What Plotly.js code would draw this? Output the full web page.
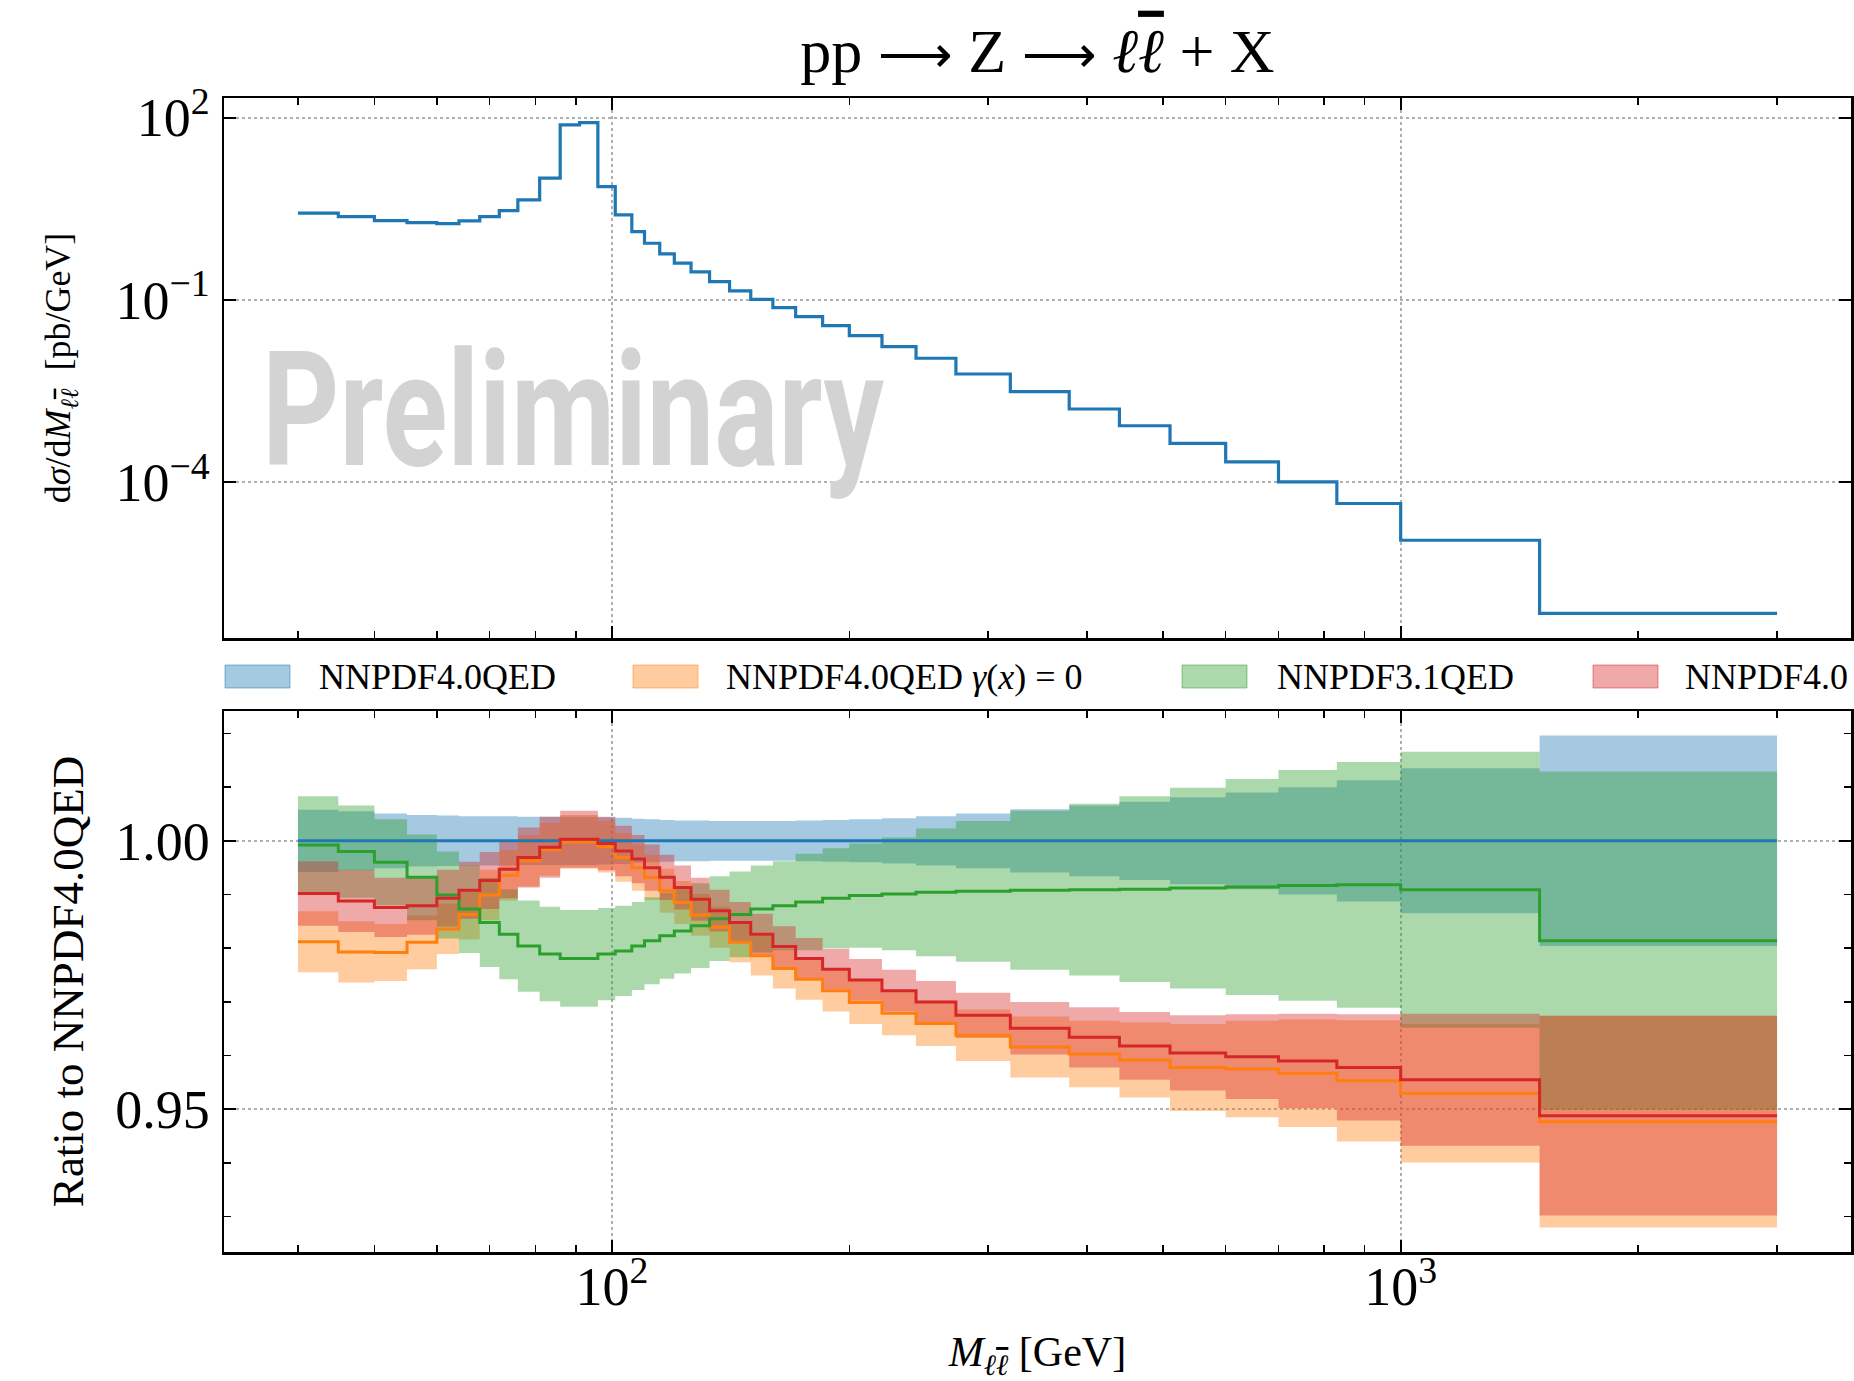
<!DOCTYPE html>
<html>
<head>
<meta charset="utf-8">
<script src="https://cdn.plot.ly/plotly-3.0.1.min.js"></script>
<style>html,body{margin:0;padding:0;background:#fff}#chart{width:1854px;height:1381px}</style>
</head>
<body>
<div id="chart"></div>
<script>
// ---- data ----
const binEdges = [40,45,50,55,60,64,68,72,76,81,86,91,96,101,106,110,115,120,126,133,141,150,160,171,185,200,220,243,273,320,380,440,510,600,700,830,1000,1500,3000];

// d sigma / d M  [pb/GeV], NNPDF4.0QED
const xsec = [2.67,2.35,2.02,1.87,1.80,2.00,2.35,2.95,4.43,10.1,75.9,82.7,7.33,2.51,1.33,0.857,0.571,0.402,0.289,0.200,0.141,0.1026,0.0747,0.0531,0.0378,0.0259,0.0171,0.0110,0.00606,0.0031,0.00161,0.000855,0.000439,0.000218,0.000102,4.5e-5,1.12e-5,7.0e-7];

// ratios to NNPDF4.0QED (central) and half-width of the uncertainty band
const ratioQED = [1.000,1.000,1.000,1.000,1.000,1.000,1.000,1.000,1.000,1.000,1.000,1.000,1.000,1.000,1.000,1.000,1.000,1.000,1.000,1.000,1.000,1.000,1.000,1.000,1.000,1.000,1.000,1.000,1.000,1.000,1.000,1.000,1.000,1.000,1.000,1.000,1.000,1.000];
const uncQED = [0.0058,0.0055,0.0051,0.0048,0.0047,0.0046,0.0046,0.0046,0.0045,0.0045,0.0045,0.0045,0.0044,0.0043,0.0041,0.0040,0.0039,0.0038,0.0038,0.0037,0.0037,0.0037,0.0037,0.0038,0.0039,0.0040,0.0042,0.0046,0.0051,0.0059,0.0066,0.0073,0.0081,0.0090,0.0100,0.0113,0.0135,0.0196];

const ratioNoPhoton = [0.9812,0.9793,0.9792,0.9811,0.9836,0.9863,0.9899,0.9936,0.9963,0.9984,0.9998,0.9998,0.9989,0.9969,0.9950,0.9932,0.9907,0.9885,0.9862,0.9839,0.9811,0.9786,0.9762,0.9742,0.9721,0.9699,0.9679,0.9660,0.9638,0.9616,0.9603,0.9592,0.9578,0.9575,0.9567,0.9553,0.9530,0.9477];
const uncNoPhoton = [0.0057,0.0057,0.0053,0.0050,0.0047,0.0047,0.0047,0.0047,0.0048,0.0049,0.0050,0.0050,0.0048,0.0045,0.0043,0.0042,0.0041,0.0040,0.0039,0.0038,0.0037,0.0037,0.0037,0.0038,0.0039,0.0040,0.0041,0.0042,0.0048,0.0057,0.0062,0.0070,0.0081,0.0090,0.0100,0.0113,0.0129,0.0197];

const ratio31 = [0.9992,0.9980,0.9960,0.9932,0.9899,0.9873,0.9848,0.9826,0.9804,0.9789,0.9781,0.9781,0.9789,0.9795,0.9804,0.9814,0.9823,0.9832,0.9842,0.9855,0.9863,0.9873,0.9879,0.9886,0.9893,0.9898,0.9901,0.9904,0.9906,0.9908,0.9909,0.9910,0.9912,0.9914,0.9917,0.9918,0.9909,0.9814];
const unc31 = [0.0091,0.0086,0.0080,0.0080,0.0081,0.0082,0.0083,0.0084,0.0085,0.0088,0.0090,0.0090,0.0086,0.0084,0.0082,0.0081,0.0080,0.0079,0.0079,0.0079,0.0080,0.0081,0.0083,0.0090,0.0093,0.0097,0.0105,0.0119,0.0131,0.0148,0.0160,0.0173,0.0187,0.0201,0.0215,0.0229,0.0257,0.0315];

const ratio40 = [0.9902,0.9888,0.9876,0.9879,0.9893,0.9908,0.9926,0.9947,0.9969,0.9988,1.0003,1.0003,0.9995,0.9981,0.9966,0.9950,0.9932,0.9913,0.9891,0.9870,0.9848,0.9826,0.9803,0.9781,0.9761,0.9741,0.9721,0.9700,0.9675,0.9651,0.9634,0.9618,0.9605,0.9598,0.9590,0.9578,0.9555,0.9488];
const unc40 = [0.0060,0.0058,0.0055,0.0054,0.0053,0.0053,0.0053,0.0054,0.0056,0.0057,0.0053,0.0053,0.0050,0.0047,0.0045,0.0043,0.0042,0.0041,0.0040,0.0039,0.0038,0.0038,0.0038,0.0038,0.0038,0.0039,0.0039,0.0039,0.0042,0.0049,0.0056,0.0063,0.0070,0.0079,0.0088,0.0099,0.0123,0.0186];

const seriesNames = ['NNPDF4.0QED', 'NNPDF4.0QED <i>γ</i>(<i>x</i>) = 0', 'NNPDF3.1QED', 'NNPDF4.0'];
const seriesColors = ['#1f77b4', '#ff7f0e', '#2ca02c', '#d62728'];
const xTickVals = [100, 1000];
const xTickText = ['10<sup>2</sup>', '10<sup>3</sup>'];
const xMinorVals = [40,50,60,70,80,90,200,300,400,500,600,700,800,900,2000,3000];
const yTopTickVals = [1e2, 1e-1, 1e-4];
const yTopTickText = ['10<sup>2</sup>', '10<sup>−1</sup>', '10<sup>−4</sup>'];
const yBotTickVals = [0.95, 1.00];
const yBotTickText = ['0.95', '1.00'];
const yBotMinor = [0.93,0.94,0.96,0.97,0.98,0.99,1.01,1.02];

// ---- helpers ----
const stepY = v => v.concat([v[v.length - 1]]);
function rgba(hex, a) {
  const r = parseInt(hex.slice(1,3),16), g = parseInt(hex.slice(3,5),16), b = parseInt(hex.slice(5,7),16);
  return `rgba(${r},${g},${b},${a})`;
}
const ALPHA = 0.4;
const LLBAR = 'ℓ<span style="text-decoration:overline">ℓ</span>';
const ARROW = '<span style="font-size:52px">⟶</span>';

const traces = [];
// upper panel: cross section
traces.push({
  x: binEdges, y: stepY(xsec), xaxis: 'x', yaxis: 'y', type: 'scatter', mode: 'lines',
  line: {shape: 'hv', color: seriesColors[0], width: 3.2}, hoverinfo: 'skip'
});

const centrals = [ratioQED, ratioNoPhoton, ratio31, ratio40];
const uncs = [uncQED, uncNoPhoton, unc31, unc40];
// bands
for (let s = 0; s < 4; s++) {
  const lo = centrals[s].map((c, i) => c - uncs[s][i]);
  const hi = centrals[s].map((c, i) => c + uncs[s][i]);
  traces.push({x: binEdges, y: stepY(lo), xaxis: 'x2', yaxis: 'y2', type: 'scatter', mode: 'lines',
    line: {shape: 'hv', width: 0, color: 'rgba(0,0,0,0)'}, hoverinfo: 'skip'});
  traces.push({x: binEdges, y: stepY(hi), xaxis: 'x2', yaxis: 'y2', type: 'scatter', mode: 'lines',
    line: {shape: 'hv', width: 0, color: 'rgba(0,0,0,0)'}, fill: 'tonexty', fillcolor: rgba(seriesColors[s], ALPHA), hoverinfo: 'skip'});
}
// central lines
for (let s = 0; s < 4; s++) {
  traces.push({x: binEdges, y: stepY(centrals[s]), xaxis: 'x2', yaxis: 'y2', type: 'scatter', mode: 'lines',
    line: {shape: 'hv', width: 3, color: seriesColors[s]}, hoverinfo: 'skip'});
}

// ranges with 5% margins (matplotlib style)
const lx0 = Math.log10(binEdges[0]), lx1 = Math.log10(binEdges[binEdges.length - 1]);
const mx = 0.05 * (lx1 - lx0);
const xRange = [lx0 - mx, lx1 + mx];
const ly0 = Math.log10(Math.min(...xsec)), ly1 = Math.log10(Math.max(...xsec));
const my = 0.05 * (ly1 - ly0);
const yTopRange = [ly0 - my, ly1 + my];
let rmin = Infinity, rmax = -Infinity;
for (let s = 0; s < 4; s++) centrals[s].forEach((c, i) => { rmin = Math.min(rmin, c - uncs[s][i]); rmax = Math.max(rmax, c + uncs[s][i]); });
const mr = 0.05 * (rmax - rmin);
const yBotRange = [rmin - mr, rmax + mr];

const W = 1854, H = 1381;
const mL = 224, mR = 3, mT = 98, mB = 129;
const plotH = H - mT - mB, plotW = W - mL - mR;
const pyTop = yPix => (H - mB - yPix) / plotH;   // pixel -> paper y
const pxL = xPix => (xPix - mL) / plotW;          // pixel -> paper x
const topDomain = [pyTop(638), 1];
const botDomain = [0, pyTop(711)];

const serif = 'Liberation Serif, Times New Roman, serif';
const tickFont = {family: serif, size: 54, color: 'black'};
const axisCommon = {
  showline: true, linecolor: 'black', linewidth: 2.5, mirror: 'ticks',
  ticks: 'inside', ticklen: 12, tickwidth: 2, tickcolor: 'black',
  showgrid: true, gridcolor: '#b0b0b0', gridwidth: 2, griddash: 'dot',
  zeroline: false, tickfont: tickFont, fixedrange: true
};

const layout = {
  width: W, height: H,
  margin: {l: mL, r: mR, t: mT, b: mB, pad: 0},
  paper_bgcolor: 'white', plot_bgcolor: 'white',
  showlegend: false,
  title: {text: 'pp ' + ARROW + ' Z ' + ARROW + ' <i>' + LLBAR + '</i> + X', font: {family: serif, size: 62, color: 'black'},
          x: 0.5, xref: 'paper', xanchor: 'center', y: 1 - 50 / H, yref: 'container', yanchor: 'middle'},
  xaxis: Object.assign({}, axisCommon, {
    type: 'log', range: xRange, domain: [0, 1], anchor: 'y',
    tickmode: 'array', tickvals: xTickVals, ticktext: xTickText, showticklabels: false,
    minor: {tickmode: 'array', tickvals: xMinorVals, ticks: 'inside', ticklen: 7, tickwidth: 1.6, tickcolor: 'black', showgrid: false}
  }),
  yaxis: Object.assign({}, axisCommon, {
    type: 'log', range: yTopRange, domain: topDomain, anchor: 'x',
    tickmode: 'array', tickvals: yTopTickVals, ticktext: yTopTickText, ticklabelstandoff: 1,
    title: {text: 'd<i>σ</i>/d<i>M</i><sub><i>' + LLBAR + '</i></sub>  [pb/GeV]', font: {family: serif, size: 36, color: 'black'}, standoff: 34}
  }),
  xaxis2: Object.assign({}, axisCommon, {
    type: 'log', range: xRange, domain: [0, 1], anchor: 'y2', matches: 'x',
    tickmode: 'array', tickvals: xTickVals, ticktext: xTickText, ticklabelstandoff: -14,
    minor: {tickmode: 'array', tickvals: xMinorVals, ticks: 'inside', ticklen: 7, tickwidth: 1.6, tickcolor: 'black', showgrid: false},
    title: {text: '<i>M</i><sub><i>' + LLBAR + '</i></sub> [GeV]', font: {family: serif, size: 42, color: 'black'}, standoff: 32}
  }),
  yaxis2: Object.assign({}, axisCommon, {
    range: yBotRange, domain: botDomain, anchor: 'x2',
    tickmode: 'array', tickvals: yBotTickVals, ticktext: yBotTickText, ticklabelstandoff: 1,
    minor: {tickmode: 'array', tickvals: yBotMinor, ticks: 'inside', ticklen: 7, tickwidth: 1.6, tickcolor: 'black', showgrid: false},
    title: {text: 'Ratio to NNPDF4.0QED', font: {family: serif, size: 45, color: 'black'}, standoff: 18}
  }),
  shapes: [],
  annotations: []
};

// legend row between the panels (manual, matplotlib-like patches)
const patchX = [225, 633, 1182, 1593];
const textX = [317, 724, 1275, 1683];
for (let s = 0; s < 4; s++) {
  layout.shapes.push({type: 'rect', xref: 'paper', yref: 'paper',
    x0: pxL(patchX[s]), x1: pxL(patchX[s] + 65), y0: pyTop(688), y1: pyTop(665),
    fillcolor: rgba(seriesColors[s], ALPHA), line: {color: rgba(seriesColors[s], 0.5), width: 1}});
  layout.annotations.push({xref: 'paper', yref: 'paper', x: pxL(textX[s]), y: pyTop(677),
    xanchor: 'left', yanchor: 'middle', showarrow: false, text: seriesNames[s],
    font: {family: serif, size: 36, color: 'black'}});
}
// watermark
layout.annotations.push({xref: 'paper', yref: 'paper', x: pxL(573), y: pyTop(410), xanchor: 'center', yanchor: 'middle',
  showarrow: false, text: 'Preliminary',
  font: {family: 'Roboto, DejaVu Sans, sans-serif', size: 160, color: '#d3d3d3', weight: 700}});

Plotly.newPlot('chart', traces, layout, {displayModeBar: false, staticPlot: true}).then(gd => {
  // squeeze the watermark horizontally like the condensed face in the reference
  gd.querySelectorAll('.annotation-text').forEach(t => {
    if (t.textContent === 'Preliminary') {
      t.setAttribute('textLength', '622');
      t.setAttribute('lengthAdjust', 'spacingAndGlyphs');
    }
  });
});
</script>
</body>
</html>
